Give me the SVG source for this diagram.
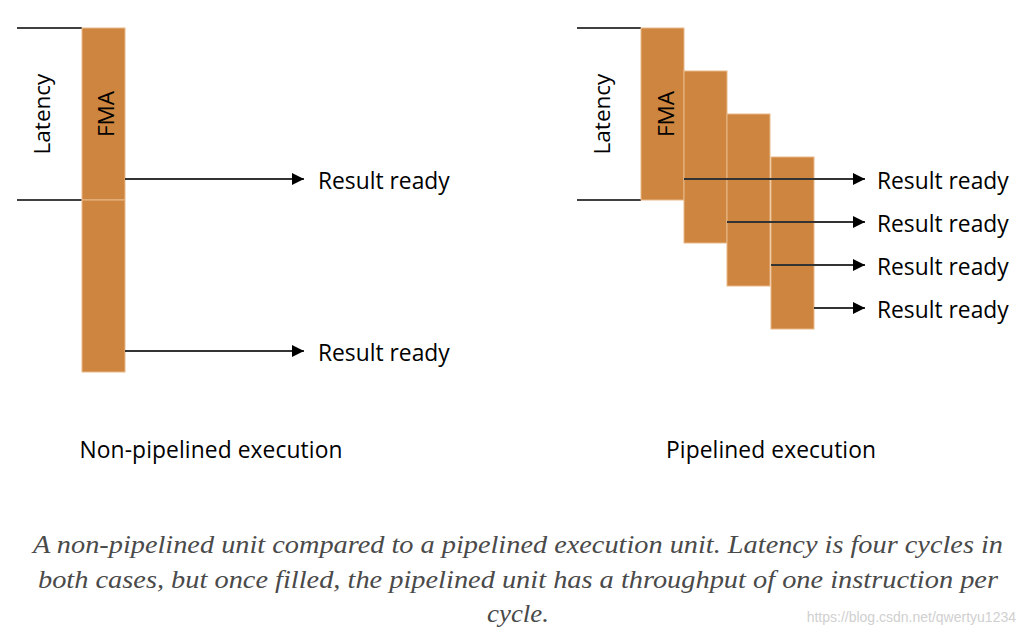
<svg xmlns="http://www.w3.org/2000/svg" width="1022" height="636" viewBox="0 0 1022 636">
<style>
.blk{fill:#CD853F;stroke:#e9b98a;stroke-width:1}
.lat{stroke:#000;stroke-width:1.3}
.arr{stroke:#333;stroke-width:2;fill:none;marker-end:url(#ah)}
.lbl{font-family:"Open Sans","Noto Sans",sans-serif;font-size:22.8px;fill:#000}
.rot{font-family:"Open Sans","Noto Sans",sans-serif;font-size:22.5px;fill:#000}
.cap{font-family:"Liberation Serif",serif;font-style:italic;font-size:25px;fill:#4a4a4a}
</style>
<defs>
<marker id="ah" markerWidth="12" markerHeight="12" refX="12" refY="6" orient="auto" markerUnits="userSpaceOnUse">
<path d="M0,0 L12,6 L0,12 z" fill="#000"/>
</marker>
</defs>
<rect width="1022" height="636" fill="#fff"/>
<g id="left-latency">
<line class="lat" x1="17" y1="28" x2="82" y2="28"/>
<line class="lat" x1="17" y1="200" x2="82" y2="200"/>
<text class="rot" transform="translate(50,114) rotate(-90)" text-anchor="middle">Latency</text>
</g>
<g id="left-fma1">
<rect class="blk" x="82" y="28" width="43" height="172"/>
<text class="rot" transform="translate(114,114) rotate(-90)" text-anchor="middle">FMA</text>
</g>
<g id="left-fma2">
<rect class="blk" x="82" y="200" width="43" height="172"/>
</g>
<g id="right-latency">
<line class="lat" x1="577" y1="28" x2="641" y2="28"/>
<line class="lat" x1="577" y1="200" x2="641" y2="200"/>
<text class="rot" transform="translate(610,114) rotate(-90)" text-anchor="middle">Latency</text>
</g>
<g id="right-fma1">
<rect class="blk" x="641" y="28" width="43" height="172"/>
<text class="rot" transform="translate(674,114) rotate(-90)" text-anchor="middle">FMA</text>
</g>
<g id="right-fma2"><rect class="blk" x="684" y="71" width="43" height="172"/></g>
<g id="right-fma3"><rect class="blk" x="727" y="114" width="43" height="172"/></g>
<g id="right-fma4"><rect class="blk" x="771" y="157" width="43" height="172"/></g>
<g id="connectors">
<line class="arr" x1="125" y1="179" x2="304" y2="179"/>
<line class="arr" x1="125" y1="351" x2="304" y2="351"/>
<line class="arr" x1="684" y1="179" x2="865" y2="179"/>
<line class="arr" x1="727" y1="222" x2="865" y2="222"/>
<line class="arr" x1="771" y1="265" x2="865" y2="265"/>
<line class="arr" x1="814" y1="308" x2="865" y2="308"/>
</g>
<g id="labels">
<text class="lbl" x="318" y="189">Result ready</text>
<text class="lbl" x="318" y="361">Result ready</text>
<text class="lbl" x="877" y="189">Result ready</text>
<text class="lbl" x="877" y="232">Result ready</text>
<text class="lbl" x="877" y="275">Result ready</text>
<text class="lbl" x="877" y="318">Result ready</text>
<text class="lbl" x="211" y="458" text-anchor="middle" textLength="263">Non-pipelined execution</text>
<text class="lbl" x="771" y="458" text-anchor="middle" textLength="210">Pipelined execution</text>
</g>
<g id="caption">
<text class="cap" x="518" y="553" text-anchor="middle" textLength="970" lengthAdjust="spacingAndGlyphs">A non-pipelined unit compared to a pipelined execution unit. Latency is four cycles in</text>
<text class="cap" x="518" y="588" text-anchor="middle" textLength="960" lengthAdjust="spacingAndGlyphs">both cases, but once filled, the pipelined unit has a throughput of one instruction per</text>
<text class="cap" x="518" y="622" text-anchor="middle" textLength="62" lengthAdjust="spacingAndGlyphs">cycle.</text>
<text x="1016" y="622" text-anchor="end" font-family="Liberation Sans, sans-serif" font-size="14" fill="#d0d0d0">https://blog.csdn.net/qwertyu1234</text>
</g>
</svg>
